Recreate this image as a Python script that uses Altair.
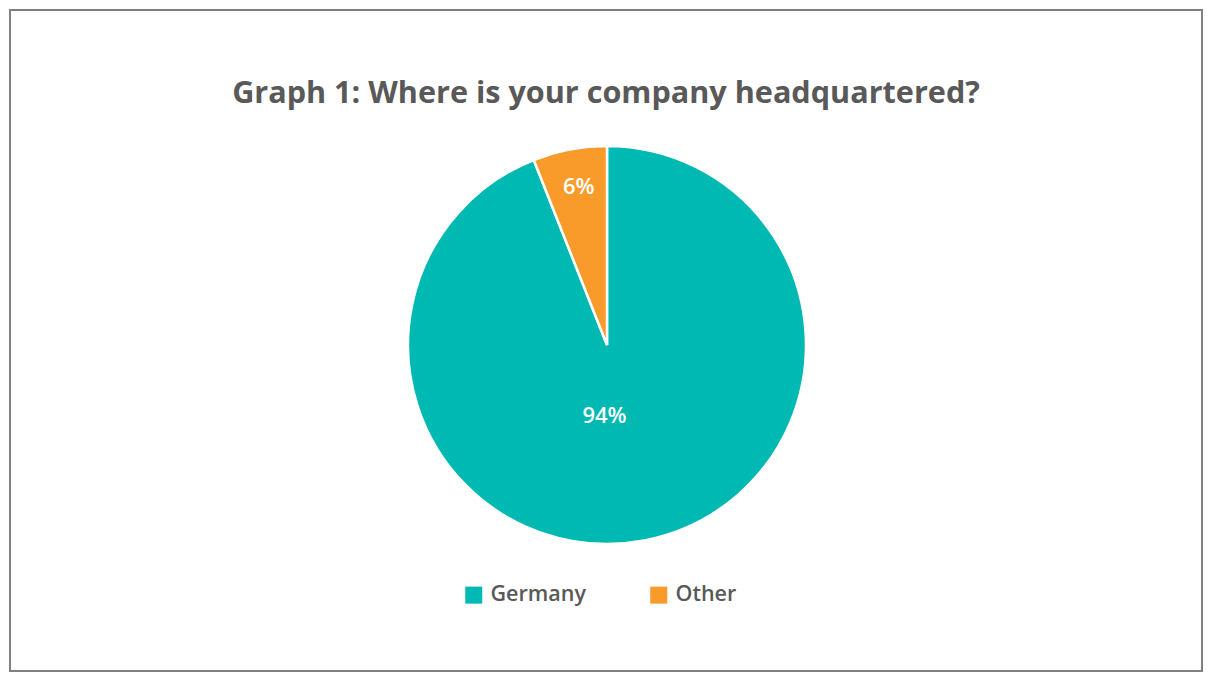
import altair as alt
import pandas as pd

categories = ["Germany", "Other"]
values = [94, 6]
labels = ["94%", "6%"]
colors = ["#00B9B3", "#F89B2B"]

df = pd.DataFrame({"cat": categories, "value": values, "label": labels, "order": [0, 1]})

PAD = 2
CX, CY, R = 599 - PAD, 337 - PAD, 199

base = alt.Chart(df)

pie = base.mark_arc(outerRadius=R, stroke="white", strokeWidth=2.5).encode(
    theta=alt.Theta("value:Q", stack=True),
    order=alt.Order("order:Q"),
    color=alt.Color(
        "cat:N",
        scale=alt.Scale(domain=categories, range=colors),
        sort=categories,
        legend=alt.Legend(
            title=None,
            orient="none",
            direction="horizontal",
            legendX=455 - PAD,
            legendY=576 - PAD,
            symbolType="square",
            symbolSize=289,
            symbolStrokeWidth=0,
            labelFont="Open Sans",
            labelFontSize=21.5,
            labelFontWeight=600,
            labelColor="#595959",
            labelOffset=6,
            columnPadding=62,
            padding=0,
        ),
    ),
    x=alt.value(CX),
    y=alt.value(CY),
)

lab_base = base.transform_window(
    cum="sum(value)", sort=[alt.SortField("order")]
).transform_calculate(mid="datum.cum - datum.value / 2")

def label_layer(cat, rad, dx):
    return lab_base.transform_filter(alt.datum.cat == cat).mark_text(
        font="Open Sans", fontSize=22, fontWeight=600, color="white", dx=dx
    ).encode(
        theta=alt.Theta("mid:Q", stack=None, scale=alt.Scale(domain=[0, 100], range=[0, 6.283185307])),
        radius=alt.value(rad),
        text="label:N",
        x=alt.value(CX),
        y=alt.value(CY),
    )

chart = alt.layer(pie, label_layer("Germany", 72, -16), label_layer("Other", 161, 2)).properties(
    width=1196 - 2 * PAD,
    height=665 - 2 * PAD,
    padding=PAD,
    background="white",
    autosize=alt.AutoSizeParams(type="none"),
    title=alt.TitleParams(
        "Graph 1: Where is your company headquartered?",
        font="Open Sans",
        fontSize=30.6,
        fontWeight="bold",
        color="#595959",
        anchor="middle",
        offset=-100,
    ),
).configure_view(stroke="#808080", strokeWidth=2)

chart.save("out.html", embed_options={"renderer": "svg", "actions": False})
